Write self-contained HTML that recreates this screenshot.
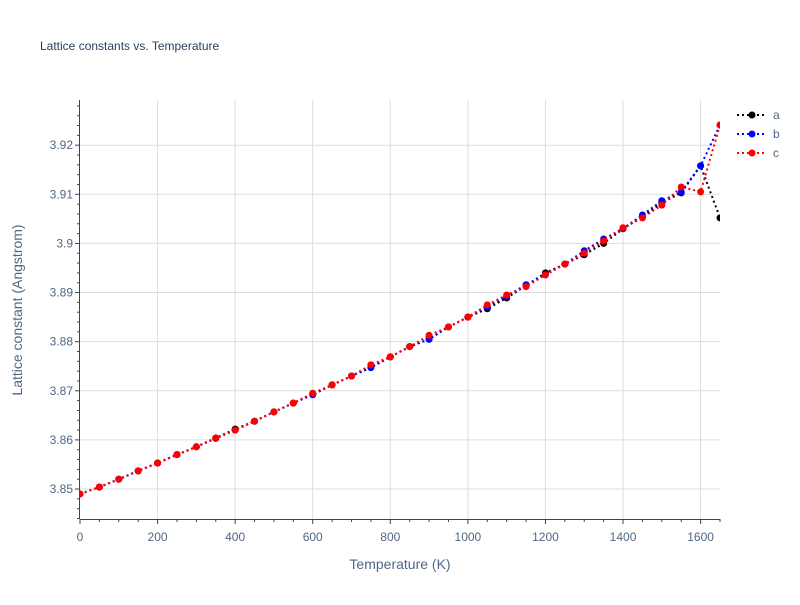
<!DOCTYPE html>
<html><head><meta charset="utf-8"><style>
body{margin:0;background:#fff;font-family:"Liberation Sans",sans-serif}
svg text{font-family:"Liberation Sans",sans-serif}
</style></head><body>
<svg id="chart" width="800" height="600">
<defs><clipPath id="plotclip"><rect x="80" y="100" width="640" height="419"/></clipPath></defs>
<text x="40" y="50" font-size="12" fill="#2a3f5f">Lattice constants vs. Temperature</text>
<g id="grid"></g>
<g id="axes"></g>
<g id="series" clip-path="url(#plotclip)"></g>
<text x="400" y="569" font-size="14" text-anchor="middle" fill="#506784">Temperature (K)</text>
<text transform="translate(22,310) rotate(-90)" font-size="14" text-anchor="middle" fill="#506784">Lattice constant (Angstrom)</text>
<g id="legend"></g>
</svg>
<script>
const temps=[0,50,100,150,200,250,300,350,400,450,500,550,600,650,700,750,800,850,900,950,1000,1050,1100,1150,1200,1250,1300,1350,1400,1450,1500,1550,1600,1650];
const seriesA=[3.849,3.8504,3.852,3.8537,3.8553,3.857,3.8586,3.8604,3.8622,3.8638,3.8657,3.8675,3.8693,3.8712,3.873,3.8748,3.8769,3.879,3.8805,3.883,3.885,3.8867,3.8889,3.8914,3.894,3.8958,3.8977,3.9,3.903,3.9054,3.9083,3.9103,3.9158,3.9052];
const seriesB=[3.849,3.8504,3.852,3.8537,3.8553,3.857,3.8586,3.8603,3.862,3.8638,3.8657,3.8675,3.8692,3.8712,3.873,3.8747,3.8769,3.879,3.8805,3.883,3.885,3.8871,3.8893,3.8916,3.8936,3.8958,3.8985,3.9009,3.903,3.9058,3.9087,3.9105,3.9158,3.9241];
const seriesC=[3.849,3.8504,3.852,3.8537,3.8553,3.857,3.8586,3.8604,3.862,3.8638,3.8657,3.8675,3.8695,3.8712,3.873,3.8753,3.8769,3.879,3.8813,3.883,3.885,3.8875,3.8895,3.8912,3.8936,3.8958,3.898,3.9005,3.9032,3.9052,3.9078,3.9115,3.9105,3.9241];
const xTicks=[0,200,400,600,800,1000,1200,1400,1600];
const yTicks=[3.85,3.86,3.87,3.88,3.89,3.9,3.91,3.92];
const yTickLabels=["3.85","3.86","3.87","3.88","3.89","3.9","3.91","3.92"];
const names=["a","b","c"];
const colors=["#000","#0000ff","#ff0000"];
const L=80,R=720,T=100,B=519,X0=0,X1=1650,Y0=3.8439,Y1=3.9292;
const xs=v=>L+(v-X0)/(X1-X0)*(R-L);
const ys=v=>B-(v-Y0)/(Y1-Y0)*(B-T);
const NS="http://www.w3.org/2000/svg";
function mk(tag,attrs,parent){const e=document.createElementNS(NS,tag);for(const k in attrs)e.setAttribute(k,attrs[k]);parent.appendChild(e);return e;}
const grid=document.getElementById('grid'),axes=document.getElementById('axes'),ser=document.getElementById('series'),leg=document.getElementById('legend');
xTicks.forEach(t=>{if(t>0){const l=mk('line',{x1:xs(t),x2:xs(t),y1:T,y2:B,stroke:'#ddd'},grid);}
const tx=mk('text',{x:xs(t),y:B+22,'font-size':12,'text-anchor':'middle',fill:'#506784'},axes);tx.textContent=t;});
yTicks.forEach((t,i)=>{const l=mk('line',{x1:L,x2:R,y1:ys(t),y2:ys(t),stroke:'#ddd'},grid);
const tx=mk('text',{x:L-7,y:ys(t)+4,'font-size':12,'text-anchor':'end',fill:'#506784'},axes);tx.textContent=yTickLabels[i];});
for(let t=0;t<=X1;t+=50){mk('line',{x1:xs(t),x2:xs(t),y1:B,y2:B+(t%200==0?5:3),stroke:'#444'},axes);}
for(let v=3.844;v<=3.929;v+=0.002){mk('line',{x1:L-(Math.abs(v*100-Math.round(v*100))<0.01?5:3),x2:L,y1:ys(v),y2:ys(v),stroke:'#444'},axes);}
mk('line',{x1:L-0.5,x2:L-0.5,y1:T,y2:B,stroke:'#444'},axes);
mk('line',{x1:L,x2:R,y1:B+0.5,y2:B+0.5,stroke:'#444'},axes);
[seriesA,seriesB,seriesC].forEach((d,k)=>{const g=mk('g',{},ser);
const pts=temps.map((t,i)=>xs(t)+','+ys(d[i])).join(' ');
mk('polyline',{points:pts,fill:'none',stroke:colors[k],'stroke-width':2,'stroke-dasharray':'2,3'},g);
temps.forEach((t,i)=>{const c=mk('circle',{cx:xs(t),cy:ys(d[i]),r:3.5,fill:colors[k]},g);});
const y=115+k*19;const le=mk('g',{},leg);
mk('line',{x1:737,x2:767,y1:y,y2:y,stroke:colors[k],'stroke-width':2,'stroke-dasharray':'2,3'},le);
mk('circle',{cx:752,cy:y,r:3.5,fill:colors[k]},le);
const tx=mk('text',{x:773,y:y+4,'font-size':12,fill:'#506784'},le);tx.textContent=names[k];});
</script>
</body></html>
